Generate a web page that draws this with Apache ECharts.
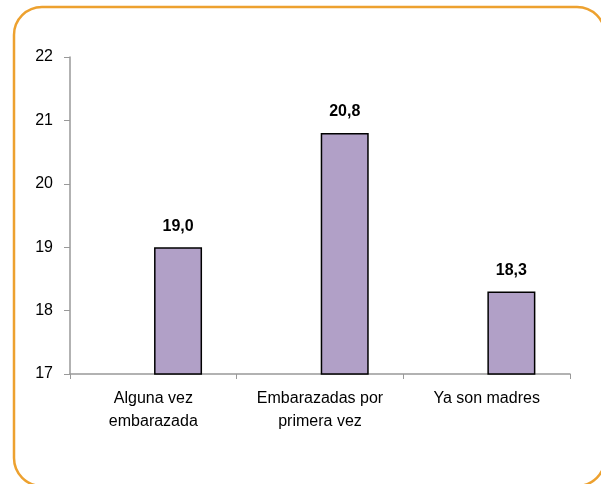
<!DOCTYPE html>
<html>
<head>
<meta charset="utf-8">
<script src="https://cdn.jsdelivr.net/npm/echarts@6/dist/echarts.min.js"></script>
<style>
  html, body { margin: 0; padding: 0; background: #fff; }
  #chart { width: 601px; height: 484px; }
</style>
</head>
<body>
<div id="chart"></div>
<script>
  // categories and values
  var categories = ['Alguna vez\nembarazada', 'Embarazadas por\nprimera vez', 'Ya son madres'];
  var values = [19.0, 20.8, 18.3];
  var yMin = 17, yMax = 22, yStep = 1;

  var m_chart = echarts.init(document.getElementById('chart'));

  var option = {
    animation: false,
    textStyle: { fontFamily: 'Liberation Sans, Arial, sans-serif' },
    graphic: [{
      type: 'rect',
      shape: { x: 14, y: 7, width: 591, height: 479, r: 28 },
      style: { fill: 'none', stroke: '#eda12f', lineWidth: 2.5 },
      z: -1
    }],
    grid: { left: 70, right: 31, top: 57, bottom: 110 },
    xAxis: {
      type: 'category',
      data: categories,
      axisLine: { lineStyle: { color: '#999999', width: 1.5 } },
      axisTick: { show: true, length: 5, lineStyle: { color: '#999999' } },
      axisLabel: { color: '#000', fontSize: 16, lineHeight: 23, margin: 13 }
    },
    yAxis: {
      type: 'value',
      min: yMin,
      max: yMax,
      interval: yStep,
      splitLine: { show: false },
      axisLine: { show: true, lineStyle: { color: '#999999', width: 1.5 } },
      axisTick: { show: true, length: 6, lineStyle: { color: '#999999' } },
      axisLabel: { color: '#000', fontSize: 16, margin: 17 }
    },
    series: [
      {
        // empty slot, shifts the real bar right like the original
        type: 'bar',
        data: ['-', '-', '-'],
        barWidth: 48,
        barGap: '3%'
      },
      {
        type: 'bar',
        data: values,
        barWidth: 48,
        barGap: '3%',
        itemStyle: { color: '#b1a0c7', borderColor: '#000', borderWidth: 1.5 },
        label: {
          show: true,
          position: 'top',
          distance: 13,
          color: '#000',
          fontWeight: 'bold',
          fontSize: 16,
          formatter: function (p) { return p.value.toFixed(1).replace('.', ','); }
        }
      }
    ]
  };

  m_chart.setOption(option);
</script>
</body>
</html>
